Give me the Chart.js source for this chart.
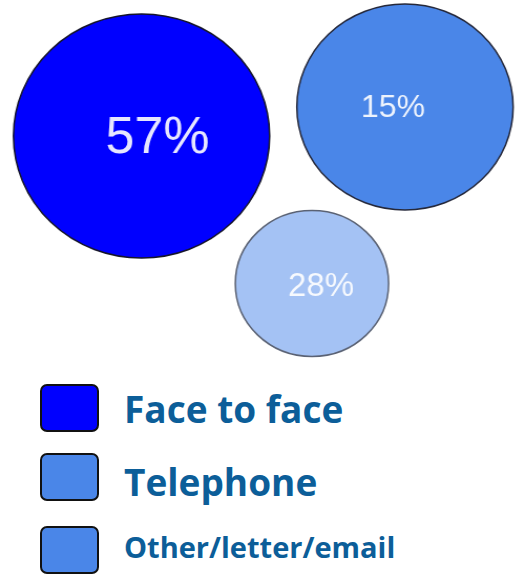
<!DOCTYPE html>
<html>
<head>
<meta charset="utf-8">
<script src="https://cdn.jsdelivr.net/npm/chart.js@4"></script>
<style>
  html, body { margin: 0; padding: 0; background: #fff; }
  body { width: 521px; height: 574px; position: relative; overflow: hidden; }
  #wrap { position: absolute; left: 0; top: 0; width: 496px; height: 362px; transform: scaleX(1.05); transform-origin: 0 0; }
  .box { position: absolute; left: 40px; width: 59px; height: 48px; box-sizing: border-box; border: 2px solid #111; border-radius: 7px; }
  .lbl { position: absolute; left: 124px; font-family: "Open Sans", sans-serif; font-weight: 700; color: #0c5e99; white-space: nowrap; }
</style>
</head>
<body>
<div id="wrap"><canvas id="chart" width="496" height="362"></canvas></div>
<div id="legend"></div>
<script>
// channel shares
const channels = ['Face to face', 'Telephone', 'Other/letter/email'];
const shares = [57, 15, 28];
// bubble placement (chart units) and radius as drawn
const bubbleX = [134.8, 385.7, 297.1];
const bubbleY = [136, 107, 283.5];
const bubbleR = [122, 103, 73];
const bubbleColors = ['#0000ff', '#4a86e8', '#a4c2f4'];
const bubbleBorders = ['#15152a', '#25283a', '#5a6274'];
const legendColors = ['#0000ff', '#4a86e8', '#4a86e8'];

const stretch = 1.05;

// labels are drawn a bit off-centre in the original
const labelShiftX = [15.2, -11.4, 8.6];
const labelShiftY = [2.5, 1.5, 3];
const labelSizes = [52, 32, 33];

const bubbleLabels = {
  id: 'bubbleLabels',
  afterDatasetsDraw(chart) {
    const ctx = chart.ctx;
    const meta = chart.getDatasetMeta(0);
    meta.data.forEach((pt, i) => {
      ctx.save();
      ctx.translate(pt.x + labelShiftX[i], pt.y + labelShiftY[i]);
      ctx.scale(1 / stretch, 1);
      ctx.fillStyle = 'rgba(255,255,255,0.9)';
      ctx.font = labelSizes[i] + 'px "Liberation Sans", Arial, sans-serif';
      ctx.textAlign = 'center';
      ctx.textBaseline = 'middle';
      ctx.fillText(shares[i] + '%', 0, 0);
      ctx.restore();
    });
  }
};

new Chart(document.getElementById('chart'), {
  type: 'bubble',
  data: {
    datasets: [{
      data: shares.map((v, i) => ({ x: bubbleX[i], y: bubbleY[i], r: bubbleR[i], v: v })),
      backgroundColor: bubbleColors,
      borderColor: bubbleBorders,
      borderWidth: 1.5,
      hoverRadius: 0
    }]
  },
  options: {
    responsive: false,
    animation: false,
    clip: false,
    layout: { padding: 0, autoPadding: false },
    scales: {
      x: { type: 'linear', min: 0, max: 496, display: false },
      y: { type: 'linear', min: 0, max: 362, reverse: true, display: false }
    },
    plugins: {
      legend: { display: false },
      tooltip: { enabled: false }
    }
  },
  plugins: [bubbleLabels]
});

// legend rows
const legendTop = [384, 453, 526];
const legendFont = [37, 37, 29];
const legendBaseline = [423, 496, 558];
const legend = document.getElementById('legend');
channels.forEach((name, i) => {
  const box = document.createElement('div');
  box.className = 'box';
  box.style.top = legendTop[i] + 'px';
  box.style.background = legendColors[i];
  legend.appendChild(box);

  const lbl = document.createElement('div');
  lbl.className = 'lbl';
  lbl.style.fontSize = legendFont[i] + 'px';
  lbl.style.lineHeight = legendFont[i] + 'px';
  lbl.style.top = (legendBaseline[i] - 0.888 * legendFont[i]) + 'px';
  lbl.textContent = name;
  legend.appendChild(lbl);
});
</script>
</body>
</html>
